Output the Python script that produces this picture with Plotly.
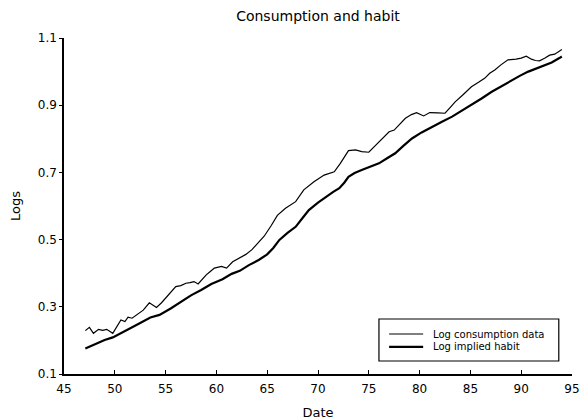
import plotly.graph_objects as go

cons_x = [47.1, 47.5, 47.9, 48.4, 48.8, 49.2, 49.8, 50.2, 50.6, 51.0, 51.3, 51.7, 52.1, 52.8,
          53.4, 53.7, 54.1, 54.6, 55.1, 55.6, 56.0, 56.5, 57.0, 57.4, 57.8, 58.2, 58.6, 59.0,
          59.4, 59.8, 60.5, 61.0, 61.6, 62.3, 62.9, 63.5, 64.0, 64.7, 65.4, 66.0, 66.8, 67.8,
          68.6, 69.6, 70.6, 71.6, 72.2, 73.0, 73.7, 74.3, 75.0, 75.7, 76.4, 77.0, 77.5, 78.1,
          78.6, 79.2, 79.7, 80.4, 81.0, 81.8, 82.5, 83.0, 83.5, 84.3, 85.1, 85.8, 86.4, 86.9,
          87.4, 88.0, 88.7, 89.5, 90.0, 90.5, 91.0, 91.4, 91.8, 92.3, 92.8, 93.3, 93.8, 94.0]
cons_y = [0.229, 0.239, 0.221, 0.233, 0.230, 0.233, 0.221, 0.240, 0.261, 0.256, 0.269, 0.266,
          0.274, 0.290, 0.312, 0.306, 0.298, 0.312, 0.328, 0.345, 0.360, 0.363, 0.370, 0.372,
          0.375, 0.368, 0.382, 0.395, 0.405, 0.415, 0.420, 0.415, 0.434, 0.447, 0.456, 0.470,
          0.486, 0.510, 0.542, 0.572, 0.593, 0.613, 0.648, 0.672, 0.692, 0.702, 0.727, 0.765,
          0.767, 0.762, 0.760, 0.781, 0.800, 0.821, 0.826, 0.845, 0.861, 0.872, 0.878, 0.868,
          0.878, 0.877, 0.876, 0.893, 0.910, 0.932, 0.955, 0.968, 0.980, 0.995, 1.005, 1.020,
          1.035, 1.037, 1.040, 1.046, 1.037, 1.033, 1.032, 1.040, 1.049, 1.052, 1.062, 1.066]

habit_x = [47.1, 48.0, 49.0, 49.8, 50.0, 50.5, 51.5, 52.5, 53.5, 54.4, 55.5, 56.5, 57.5, 58.5,
           59.5, 60.6, 61.5, 62.3, 63.2, 64.2, 65.0, 65.6, 66.2, 67.0, 67.8, 68.5, 69.1, 70.0,
           70.8, 71.5, 72.1, 72.6, 73.0, 73.6, 74.3, 75.2, 76.0, 76.8, 77.6, 78.4, 79.25, 80.2,
           81.2, 82.2, 83.2, 84.1, 85.1, 86.1, 87.1, 88.1, 89.1, 89.9, 90.7, 91.5, 92.3, 93.0,
           93.8, 94.0]
habit_y = [0.176, 0.189, 0.201, 0.209, 0.212, 0.222, 0.236, 0.252, 0.268, 0.276, 0.295, 0.315,
           0.334, 0.350, 0.368, 0.382, 0.398, 0.407, 0.424, 0.440, 0.456, 0.475, 0.499, 0.520,
           0.538, 0.565, 0.588, 0.610, 0.628, 0.642, 0.653, 0.670, 0.687, 0.698, 0.707, 0.718,
           0.727, 0.742, 0.757, 0.779, 0.801, 0.819, 0.836, 0.851, 0.866, 0.882, 0.900, 0.920,
           0.940, 0.958, 0.975, 0.988, 1.000, 1.009, 1.017, 1.027, 1.041, 1.045]

series_names = ["Log consumption data", "Log implied habit"]
x_ticks = [45, 50, 55, 60, 65, 70, 75, 80, 85, 90, 95]
y_ticks = [0.1, 0.3, 0.5, 0.7, 0.9, 1.1]
y_tick_labels = ["0.1", "0.3", "0.5", "0.7", "0.9", "1.1"]

FONT = "DejaVu Sans"
widths = [1.2, 2.2]

fig = go.Figure()
fig.add_trace(go.Scatter(x=cons_x, y=cons_y, mode="lines", name=series_names[0],
                         line=dict(color="black", width=widths[0])))
fig.add_trace(go.Scatter(x=habit_x, y=habit_y, mode="lines", name=series_names[1],
                         line=dict(color="black", width=widths[1])))

# custom compact legend (box, line samples, labels) in paper coordinates
shapes = [dict(type="rect", xref="paper", yref="paper", x0=0.620, x1=0.974,
               y0=0.0387, y1=0.1637, line=dict(color="black", width=1.2),
               fillcolor="white", layer="above")]
annotations = []
leg_rows = [0.119, 0.081]
for name, w, yy in zip(series_names, widths, leg_rows):
    shapes.append(dict(type="line", xref="paper", yref="paper", x0=0.640, x1=0.707,
                       y0=yy, y1=yy, line=dict(color="black", width=w), layer="above"))
    annotations.append(dict(text=name, xref="paper", yref="paper", x=0.722, y=yy,
                            xanchor="left", yanchor="middle", showarrow=False,
                            font=dict(family=FONT, size=10, color="black")))

fig.update_layout(
    width=580, height=420,
    margin=dict(l=64, r=8, t=38, b=46),
    paper_bgcolor="white", plot_bgcolor="white",
    font=dict(family=FONT, size=12, color="black"),
    title=dict(text="Consumption and habit", x=0.5, xref="paper", xanchor="center",
               y=1 - 16 / 420, yanchor="middle",
               font=dict(family=FONT, size=14, color="black")),
    showlegend=False,
    hovermode=False,
    shapes=shapes,
    annotations=annotations,
)
fig.update_xaxes(range=[45, 95], tickvals=x_ticks, ticks="inside", ticklen=4,
                 tickcolor="black", showline=True, linecolor="black", linewidth=1.5,
                 showgrid=False, zeroline=False, ticklabeloverflow="allow",
                 ticklabelstandoff=3, automargin=False,
                 title=dict(text="Date", font=dict(family=FONT, size=13), standoff=13),
                 tickfont=dict(family=FONT, size=12))
fig.update_yaxes(range=[0.1, 1.1], tickvals=y_ticks, ticktext=y_tick_labels, ticks="outside",
                 ticklen=3, tickcolor="black", showline=True, linecolor="black", linewidth=1.5,
                 showgrid=False, zeroline=False, automargin=False,
                 title=dict(text="Logs", font=dict(family=FONT, size=13), standoff=14),
                 tickfont=dict(family=FONT, size=12))

fig.write_html("out.html", config={"displayModeBar": False},
               post_script="document.body.style.margin='0';")
